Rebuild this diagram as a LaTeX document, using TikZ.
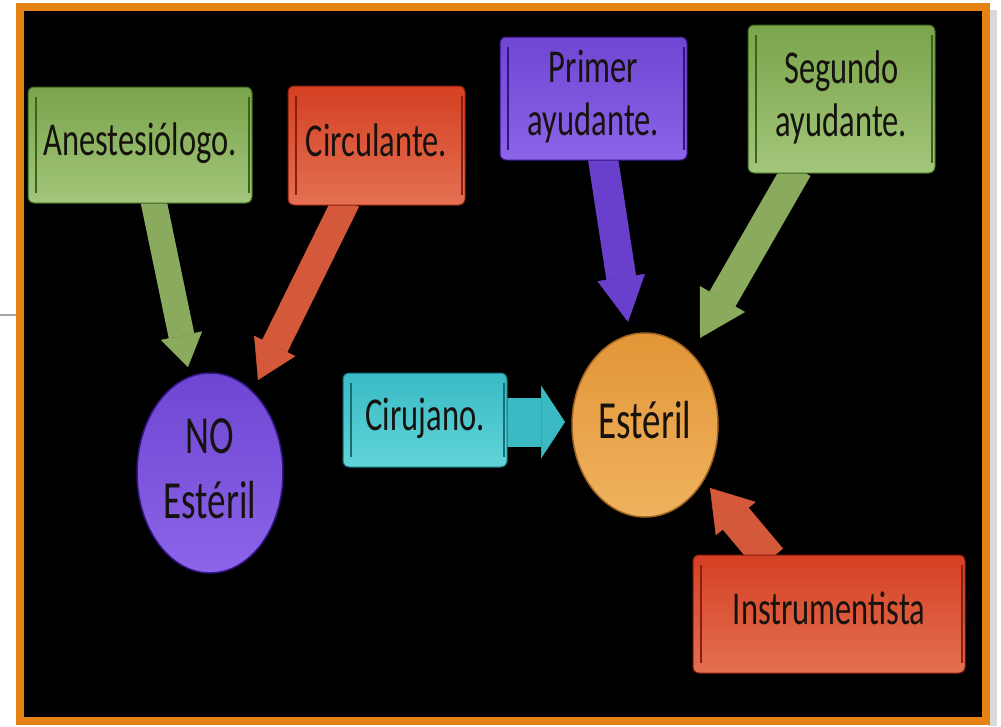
\documentclass[tikz,border=0pt]{standalone}
\usepackage{fontspec}
\setmainfont{Carlito}
\usepackage{graphicx}
\usetikzlibrary{arrows.meta,calc,shapes.geometric}
\pgfdeclarelayer{back}
\pgfdeclarelayer{mid}
\pgfsetlayers{back,mid,main}
\definecolor{frameor}{RGB}{228,130,20}
\definecolor{grnT}{RGB}{122,164,76}
\definecolor{grnB}{RGB}{162,198,122}
\definecolor{grnD}{RGB}{60,100,30}
\definecolor{grnA}{RGB}{138,170,94}
\definecolor{redT}{RGB}{212,64,34}
\definecolor{redB}{RGB}{228,112,82}
\definecolor{redD}{RGB}{140,30,15}
\definecolor{redA}{RGB}{212,88,58}
\definecolor{purT}{RGB}{110,70,210}
\definecolor{purB}{RGB}{140,100,232}
\definecolor{purD}{RGB}{50,20,130}
\definecolor{purA}{RGB}{104,64,204}
\definecolor{cyaT}{RGB}{58,186,196}
\definecolor{cyaB}{RGB}{96,212,216}
\definecolor{cyaD}{RGB}{20,110,120}
\definecolor{cyaA}{RGB}{60,186,196}
\definecolor{oraT}{RGB}{226,150,55}
\definecolor{oraB}{RGB}{240,178,95}
\definecolor{oraD}{RGB}{160,100,35}
\definecolor{txt}{RGB}{22,18,14}
\newcommand{\vt}[2][1.45]{\scalebox{1}[#1]{\begin{tabular}{@{}c@{}}#2\end{tabular}}}
\tikzset{
  box/.style n args={3}{rectangle, rounded corners=6pt, inner sep=0pt,
    top color=#1, bottom color=#2, draw=#3, line width=1pt, text=txt,
    font=\fontsize{32.5}{36.5}\selectfont,
    path picture={
      \draw[#3, line width=2.5pt]
        ([xshift=8pt,yshift=-10pt]path picture bounding box.north west) --
        ([xshift=8pt,yshift=10pt]path picture bounding box.south west);
      \draw[#3, line width=2.5pt]
        ([xshift=-3pt,yshift=-10pt]path picture bounding box.north east) --
        ([xshift=-3pt,yshift=10pt]path picture bounding box.south east);
    }},
  disc/.style n args={3}{ellipse, inner sep=0pt, top color=#1, bottom color=#2,
    draw=#3, line width=1.5pt, text=txt,
    font=\fontsize{37}{45}\selectfont},
  arr/.style n args={4}{draw=#1, line width=#2, line cap=butt,
    -{Triangle[width=#3,length=#4,line width=0.5pt]}}
}
\begin{document}
\begin{tikzpicture}[x=1pt,y=-1pt]
\useasboundingbox (0,0) rectangle (1001,726);
\begin{pgfonlayer}{back}
  \fill[white] (0,0) rectangle (1001,726);
  \fill[gray!30] (988,10) rectangle (997,726);
  \filldraw[fill=black, draw=frameor, line width=8pt] (20,7) rectangle (986,721);
  \draw[gray!70, line width=1.5pt] (0,315) -- (16,315);
\end{pgfonlayer}

\node[box={grnT}{grnB}{grnD}, minimum width=224pt, minimum height=116pt] (anest) at (140,145) {\vt{Anestesiólogo.}};
\node[box={redT}{redB}{redD}, minimum width=177pt, minimum height=119pt] (circ) at (376.5,145.5) {\vt{Circulante.}};
\node[box={purT}{purB}{purD}, minimum width=187pt, minimum height=123pt] (primer) at (593.5,98.5) {\vt{Primer\\ayudante.}};
\node[box={grnT}{grnB}{grnD}, minimum width=187pt, minimum height=148pt] (segundo) at (841.5,99) {\vt{Segundo\\ayudante.}};
\node[box={cyaT}{cyaB}{cyaD}, minimum width=164pt, minimum height=94pt] (ciru) at (425,420) {\vt{Cirujano.}};
\node[box={redT}{redB}{redD}, minimum width=272pt, minimum height=118pt] (instr) at (829,614) {\vt{Instrumentista}};
\node[disc={purT}{purB}{purD}, minimum width=146pt, minimum height=200pt] (noest) at (210,473) {\vt{NO\\Estéril}};
\node[disc={oraT}{oraB}{oraD}, minimum width=146pt, minimum height=184pt] (est) at (645,425) {\vt{Estéril}};

\begin{pgfonlayer}{mid}
  \draw[arr={grnA}{26pt}{42pt}{32pt}] ($(anest.south)+(13,-5)$) -- ($(noest.center)+(-22,-106)$);
  \draw[arr={redA}{28pt}{46pt}{38pt}] ($(circ.south)+(-30,-5)$) -- ($(noest.center)+(48,-93)$);
  \draw[arr={purA}{30pt}{48pt}{45pt}] ($(primer.south)+(9,-5)$) -- ($(est.center)+(-17,-103)$);
  \draw[arr={grnA}{30pt}{52pt}{45pt}] ($(segundo.south)+(-44,-5)$) -- ($(est.center)+(55,-87)$);
  \draw[arr={cyaA}{49pt}{73pt}{24pt}] ($(ciru.east)+(-5,2)$) -- ($(est.center)+(-80,-3)$);
  \draw[arr={redA}{34pt}{52pt}{40pt}] ($(instr.north)+(-59,5)$) -- ($(est.center)+(65,63)$);
\end{pgfonlayer}
\end{tikzpicture}
\end{document}
